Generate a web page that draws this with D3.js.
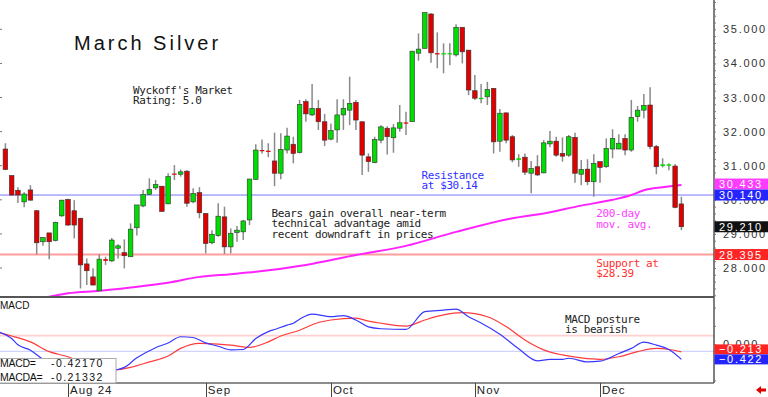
<!DOCTYPE html>
<html>
<head>
<meta charset="utf-8">
<script src="https://cdn.jsdelivr.net/npm/d3@7"></script>
<style>
html, body { margin: 0; padding: 0; background: #fff; overflow: hidden; }
svg { display: block; }
text { font-family: "Liberation Sans", Arial, sans-serif; }
.mono { font-family: "DejaVu Sans Mono", monospace; font-size: 11px; letter-spacing: -0.4px; }
</style>
</head>
<body>
<svg id="chart"></svg>
<script>
// one candle per trading day, index 0 = Jul 18 2024 ... index 108 = Dec 19 2024
const openP = [31.49,30.71,30.28,29.94,30.29,29.68,28.77,29.03,28.81,29.53,
  30.01,29.68,29.46,28.12,27.74,27.33,28.26,28.21,28.58,28.45,
  28.33,29.18,29.82,30.16,30.35,30.40,29.88,30.77,30.75,30.84,
  29.94,30.21,29.60,28.74,28.95,29.50,28.62,29.04,29.06,29.41,
  30.60,31.46,31.44,31.14,30.78,31.46,31.63,31.39,32.88,32.49,
  32.68,32.29,31.78,32.05,32.49,32.63,32.86,32.29,31.26,31.09,
  31.75,32.10,31.82,32.10,32.27,32.29,34.30,34.44,35.45,34.30,
  34.28,34.28,34.25,35.06,34.39,33.20,32.97,33.02,33.27,31.72,
  32.55,31.85,31.17,31.25,30.78,30.97,30.79,31.64,31.72,31.36,
  31.31,31.83,30.75,30.90,30.53,31.12,30.97,31.49,31.49,31.80,
  31.46,32.44,32.63,32.78,31.56,30.99,31.00,30.99,29.88]
const highP = [31.66,30.72,30.37,30.22,30.43,29.70,28.91,29.03,29.36,30.00,
  30.03,29.99,29.47,28.28,27.99,28.40,28.33,28.88,28.70,28.84,
  29.31,29.85,30.29,30.63,30.58,30.40,30.78,31.02,30.89,30.87,
  30.34,30.37,29.60,29.11,29.90,29.80,29.16,29.23,29.41,30.61,
  31.63,31.77,31.66,31.97,31.95,32.11,31.85,32.93,32.95,33.40,
  32.93,32.52,32.24,32.95,32.95,33.61,32.93,32.29,31.36,31.85,
  32.19,32.16,32.22,32.78,32.58,34.36,34.88,35.49,35.47,34.91,
  34.59,34.59,35.15,35.06,34.39,33.66,33.40,33.46,33.27,32.66,
  32.55,31.90,31.34,31.36,31.14,31.31,31.75,32.02,31.85,31.83,
  31.90,31.97,31.17,31.19,31.34,31.12,31.80,32.07,31.92,31.92,
  32.93,32.75,33.10,33.30,31.61,31.22,31.07,31.05,30.09]
const lowP = [30.87,30.12,29.91,29.78,29.98,28.40,28.65,28.26,28.78,29.50,
  29.24,28.87,27.40,27.50,27.50,27.33,28.09,28.18,28.28,27.99,
  28.33,28.95,29.78,30.14,30.29,29.66,29.88,30.58,30.68,29.80,
  29.90,29.46,28.43,28.70,28.92,28.41,28.43,28.77,28.82,29.26,
  30.58,31.36,31.25,30.40,30.60,31.36,31.07,31.36,32.29,32.46,
  32.05,31.58,31.75,31.67,32.05,32.19,32.05,30.73,30.82,31.07,
  31.66,31.33,31.38,32.00,31.90,32.29,34.08,34.44,34.02,33.86,
  33.71,33.95,34.20,34.00,33.07,32.93,32.83,32.78,31.36,31.41,
  31.66,31.10,30.97,30.73,30.19,30.70,30.78,31.54,31.26,31.12,
  31.26,30.50,30.43,30.43,30.09,30.50,30.94,31.22,31.49,31.31,
  31.41,32.29,32.39,31.48,30.75,30.95,30.87,29.75,29.11]
const closeP = [30.89,30.14,30.14,30.17,29.99,28.74,28.89,28.77,29.34,29.99,
  29.26,29.26,28.09,27.92,27.50,28.26,28.21,28.82,28.65,28.36,
  29.14,29.85,30.16,30.31,30.45,29.66,30.68,30.75,30.82,29.90,
  30.19,29.62,28.72,28.99,29.52,28.62,29.02,29.11,29.38,30.61,
  31.46,31.43,31.41,30.78,31.48,31.87,31.36,32.80,32.52,32.68,
  32.29,31.75,32.03,32.49,32.68,32.83,32.34,31.31,31.12,31.77,
  32.14,31.85,32.11,32.26,32.25,34.36,34.42,35.49,34.31,34.28,
  34.30,34.30,35.06,34.34,33.22,32.98,32.99,33.24,31.70,32.54,
  31.75,31.17,31.22,30.81,30.92,30.73,31.67,31.72,31.31,31.28,
  31.85,30.78,30.89,30.53,31.07,30.95,31.51,31.80,31.66,31.46,
  32.42,32.63,32.77,31.56,30.97,31.04,31.04,29.78,29.21]

// 200-day moving average, [candle index, price]
const maPts = [[0,27.05],[7,27.16],[10,27.26],[15,27.33],[20,27.43],[26,27.57],[31,27.74],
  [36,27.82],[40,27.89],[48,28.09],[56,28.38],[64,28.65],[72,29.06],[81,29.46],[86,29.60],
  [92,29.83],[97,30.0],[100,30.14],[102,30.28],[105,30.37],[108,30.433]]

// MACD (blue) and its average (red), [candle index, value]
const macdPts = [[-1,0.33],[1,0.15],[2,-0.02],[4,-0.17],[6,-0.42],[9,-0.62],[12,-0.76],[15,-0.80],
  [18,-0.70],[19,-0.64],[21,-0.38],[24,-0.10],[26,0.03],[28,0.20],[30,0.18],[32,0.03],[34,-0.06],
  [36,-0.16],[38,-0.15],[40,0.15],[42,0.34],[43,0.40],[45,0.52],[46,0.57],[47,0.68],[49,0.82],
  [52,0.75],[54,0.78],[56,0.66],[58,0.47],[60,0.42],[64,0.40],[67,0.89],[70,0.93],[72,0.96],
  [74,0.75],[76,0.58],[79,0.27],[82,-0.13],[85,-0.46],[87,-0.42],[89,-0.42],[90,-0.39],[93,-0.49],
  [95,-0.47],[98,-0.26],[100,-0.12],[102,0.05],[104,-0.03],[106,-0.15],[108,-0.4217]]
const signalPts = [[-1,0.31],[1,0.22],[4,0.06],[7,-0.21],[10,-0.35],[12,-0.49],[15,-0.62],[18,-0.70],
  [20,-0.64],[23,-0.49],[26,-0.33],[28,-0.12],[31,0.02],[34,0.0],[36,-0.03],[39,-0.09],[42,0.06],
  [44,0.22],[47,0.38],[50,0.59],[52,0.66],[56,0.71],[58,0.63],[60,0.57],[64,0.49],[67,0.66],
  [70,0.80],[73,0.86],[77,0.75],[80,0.48],[83,0.11],[86,-0.16],[89,-0.30],[92,-0.38],[95,-0.42],
  [98,-0.35],[101,-0.21],[104,-0.12],[106,-0.15],[108,-0.2133]]
const macdLast = -0.42170
const signalLast = -0.21332
const macdRefs = [0.23, -0.2]

const monthLabels = ['Aug 24', 'Sep', 'Oct', 'Nov', 'Dec']
const monthIdx = [10, 32, 52, 75, 95]
const priceTicks = [28, 29, 30, 31, 32, 33, 34, 35]
const resistance = 30.14
const support = 28.395

const W = 768, H = 397
const plotR = 714
const main = { top: 0, bottom: 297 }
const sub = { top: 298, bottom: 383 }

const svg = d3.select('#chart').attr('width', W).attr('height', H)

const x = d3.scaleLinear().domain([0, 108]).range([5.4, 681.4])
const y = d3.scaleLinear().domain([27.15, 35.86]).range([main.bottom, main.top])
const ym = d3.scaleLinear().domain([-1.07, 1.264]).range([sub.bottom, sub.top])

const defs = svg.append('defs')
defs.append('clipPath').attr('id', 'clipMain').append('rect')
  .attr('x', 0).attr('y', main.top).attr('width', plotR).attr('height', main.bottom - main.top - 1)
defs.append('clipPath').attr('id', 'clipSub').append('rect')
  .attr('x', 0).attr('y', sub.top).attr('width', plotR).attr('height', sub.bottom - sub.top)

// ---- main panel ----
const gMain = svg.append('g').attr('clip-path', 'url(#clipMain)')

gMain.append('line')
  .attr('x1', 0).attr('x2', plotR).attr('y1', y(resistance)).attr('y2', y(resistance))
  .attr('stroke', '#7777ff').attr('stroke-width', 1)
gMain.append('line')
  .attr('x1', 0).attr('x2', plotR).attr('y1', y(support)).attr('y2', y(support))
  .attr('stroke', '#ff9c9c').attr('stroke-width', 2)

gMain.append('path')
  .datum(maPts)
  .attr('fill', 'none').attr('stroke', '#ff22ff').attr('stroke-width', 2)
  .attr('d', d3.line().x(d => x(d[0])).y(d => y(d[1])).curve(d3.curveMonotoneX))

const idx = d3.range(closeP.length)
const candles = gMain.append('g')
candles.selectAll('line.wick').data(idx).join('line')
  .attr('class', 'wick')
  .attr('x1', i => x(i)).attr('x2', i => x(i))
  .attr('y1', i => y(highP[i])).attr('y2', i => y(lowP[i]))
  .attr('stroke', '#8a8a8a').attr('stroke-width', 1.5)
candles.selectAll('rect.body').data(idx).join('rect')
  .attr('class', 'body')
  .attr('x', i => x(i) - 2.3)
  .attr('width', 4.6)
  .attr('y', i => y(Math.max(openP[i], closeP[i])))
  .attr('height', i => Math.max(1.2, Math.abs(y(openP[i]) - y(closeP[i]))))
  .attr('fill', i => closeP[i] >= openP[i] ? '#00dd00' : '#e00000')
  .attr('stroke', i => Math.abs(y(openP[i]) - y(closeP[i])) > 2 ? '#333' : 'none')
  .attr('stroke-width', 0.6)

// ---- MACD panel ----
const gSub = svg.append('g').attr('clip-path', 'url(#clipSub)')
gSub.selectAll('line.ref').data(macdRefs).join('line')
  .attr('class', 'ref')
  .attr('x1', 0).attr('x2', plotR).attr('y1', d => ym(d)).attr('y2', d => ym(d))
  .attr('stroke', (d, i) => i === 0 ? '#ffd0d0' : '#c8c8ff')
  .attr('stroke-width', (d, i) => i === 0 ? 1.6 : 1)

const mline = d3.line().x(d => x(d[0])).y(d => ym(d[1])).curve(d3.curveMonotoneX)
gSub.append('path').datum(signalPts)
  .attr('fill', 'none').attr('stroke', '#ff3b3b').attr('stroke-width', 1.2).attr('d', mline)
gSub.append('path').datum(macdPts)
  .attr('fill', 'none').attr('stroke', '#3838ff').attr('stroke-width', 1.2).attr('d', mline)

// frame lines
svg.append('line').attr('x1', 0).attr('x2', plotR).attr('y1', main.bottom).attr('y2', main.bottom)
  .attr('stroke', '#555').attr('stroke-width', 2)
svg.append('line').attr('x1', 0).attr('x2', plotR).attr('y1', sub.bottom).attr('y2', sub.bottom)
  .attr('stroke', '#666').attr('stroke-width', 1.5)
svg.append('line').attr('x1', plotR).attr('x2', plotR).attr('y1', 0).attr('y2', sub.bottom)
  .attr('stroke', '#555').attr('stroke-width', 1.5)

// right price axis: minor ticks + labels
const yAxis = d3.axisRight(y)
  .tickValues(d3.range(27.2, 35.81, 0.2))
  .tickSize(2).tickFormat('')
svg.append('g').attr('transform', `translate(${plotR},0)`).call(yAxis)
  .call(g => g.select('.domain').remove())
  .call(g => g.selectAll('line').attr('stroke', '#777'))
svg.append('g').selectAll('text').data(priceTicks).join('text')
  .attr('x', 723).attr('y', d => y(d) + 4)
  .attr('font-size', 11).attr('letter-spacing', 1.7).attr('fill', '#333')
  .text(d => d3.format('.3f')(d))
// small left edge ticks
svg.append('g').selectAll('line').data(priceTicks).join('line')
  .attr('x1', 0).attr('x2', 2).attr('y1', d => y(d)).attr('y2', d => y(d))
  .attr('stroke', '#777')

// MACD axis
const ymAxis = d3.axisRight(ym).tickValues([1, 0.5, 0, -0.5, -1]).tickSize(2).tickFormat('')
svg.append('g').attr('transform', `translate(${plotR},0)`).call(ymAxis)
  .call(g => g.select('.domain').remove())
  .call(g => g.selectAll('line').attr('stroke', '#777'))
svg.append('text').attr('x', 723).attr('y', ym(0) + 4)
  .attr('font-size', 11).attr('letter-spacing', 1.7).attr('fill', '#333').text('0.000')

// value tags on the right
function tags(list, h) {
  list.sort((a, b) => b.v - a.v)
  const cy = list.map(d => d.cy)
  // push upper tags up if they overlap the lower one
  for (let k = list.length - 1; k > 0; k--) {
    if (cy[k - 1] + h / 2 > cy[k] - h / 2) cy[k - 1] = cy[k] - h
  }
  list.forEach((d, k) => {
    svg.append('rect').attr('x', plotR + 0.5).attr('y', cy[k] - h / 2)
      .attr('width', W - plotR).attr('height', h).attr('fill', d.c)
    svg.append('text').attr('x', 719).attr('y', cy[k] + 4)
      .attr('font-size', 11).attr('letter-spacing', 1.7).attr('fill', '#fff')
      .text(d.t)
  })
}
const lastMa = maPts[maPts.length - 1][1]
const lastClose = closeP[closeP.length - 1]
tags([
  { v: lastMa, cy: y(lastMa), c: '#ff3cff', t: d3.format('.3f')(lastMa) },
  { v: resistance, cy: y(resistance), c: '#2424ff', t: d3.format('.3f')(resistance) }
], 11)
tags([{ v: lastClose, cy: y(lastClose), c: '#111', t: d3.format('.3f')(lastClose) }], 11)
tags([{ v: support, cy: y(support), c: '#ff2424', t: d3.format('.3f')(support) }], 11)
tags([
  { v: signalLast, cy: ym(signalLast), c: '#ff2424', t: d3.format('.3f')(signalLast) },
  { v: macdLast, cy: ym(macdLast), c: '#2424ff', t: d3.format('.3f')(macdLast) }
], 10)

// month axis
const gx = svg.append('g')
gx.selectAll('line').data(monthIdx).join('line')
  .attr('x1', d => Math.round(x(d)) + 0.5).attr('x2', d => Math.round(x(d)) + 0.5)
  .attr('y1', sub.bottom).attr('y2', H)
  .attr('stroke', '#444')
gx.selectAll('text').data(monthIdx).join('text')
  .attr('x', d => x(d) + 2).attr('y', 394)
  .attr('font-size', 11.5).attr('letter-spacing', 1).attr('fill', '#222')
  .text((d, i) => monthLabels[i])

// little red arrow bottom right
svg.append('path').attr('d', 'M756,390 l5,-4 v2.5 h5 v3 h-5 v2.5 z').attr('fill', '#e00000')

// legend box for MACD values
const leg = svg.append('g')
leg.append('rect').attr('x', -1).attr('y', 358.5).attr('width', 117).attr('height', sub.bottom - 358.5)
  .attr('fill', '#fff').attr('stroke', '#aaa')
const legRows = [['MACD=', macdLast], ['MACDA=', signalLast]]
legRows.forEach((r, k) => {
  leg.append('text').attr('x', 0).attr('y', 367 + k * 13.5)
    .attr('font-size', 10.5).attr('letter-spacing', -0.3).attr('fill', '#111').text(r[0])
  leg.append('text').attr('x', 51).attr('y', 367 + k * 13.5)
    .attr('font-size', 10.5).attr('letter-spacing', 1.4).attr('fill', '#111')
    .text(d3.format('.5f')(r[1]).replace('−', '-'))
})
svg.append('text').attr('x', 0).attr('y', 309).attr('font-size', 10).attr('fill', '#111').text('MACD')

// annotations
svg.append('text').attr('x', 74).attr('y', 50)
  .attr('font-size', 20).attr('letter-spacing', 3).attr('fill', '#111').text('March Silver')

function note(lines, x0, y0, lh, color) {
  lines.forEach((s, k) => {
    svg.append('text').attr('class', 'mono').attr('x', x0).attr('y', y0 + k * lh)
      .attr('fill', color).text(s)
  })
}
note(["Wyckoff's Market", 'Rating: 5.0'], 133, 94, 10, '#222')
note(['Resistance', 'at $30.14'], 421.5, 179, 9.5, '#3030ff')
note(['Bears gain overall near-term', 'technical advantage amid', 'recent downdraft in prices'], 271.5, 216.7, 10.5, '#222')
note(['200-day', 'mov. avg.'], 596.3, 217.3, 10.7, '#ff40ff')
note(['Support at', '$28.39'], 596.3, 266.7, 10, '#ff3030')
note(['MACD posture', 'is bearish'], 565, 322.7, 10.3, '#222')
</script>
</body>
</html>
